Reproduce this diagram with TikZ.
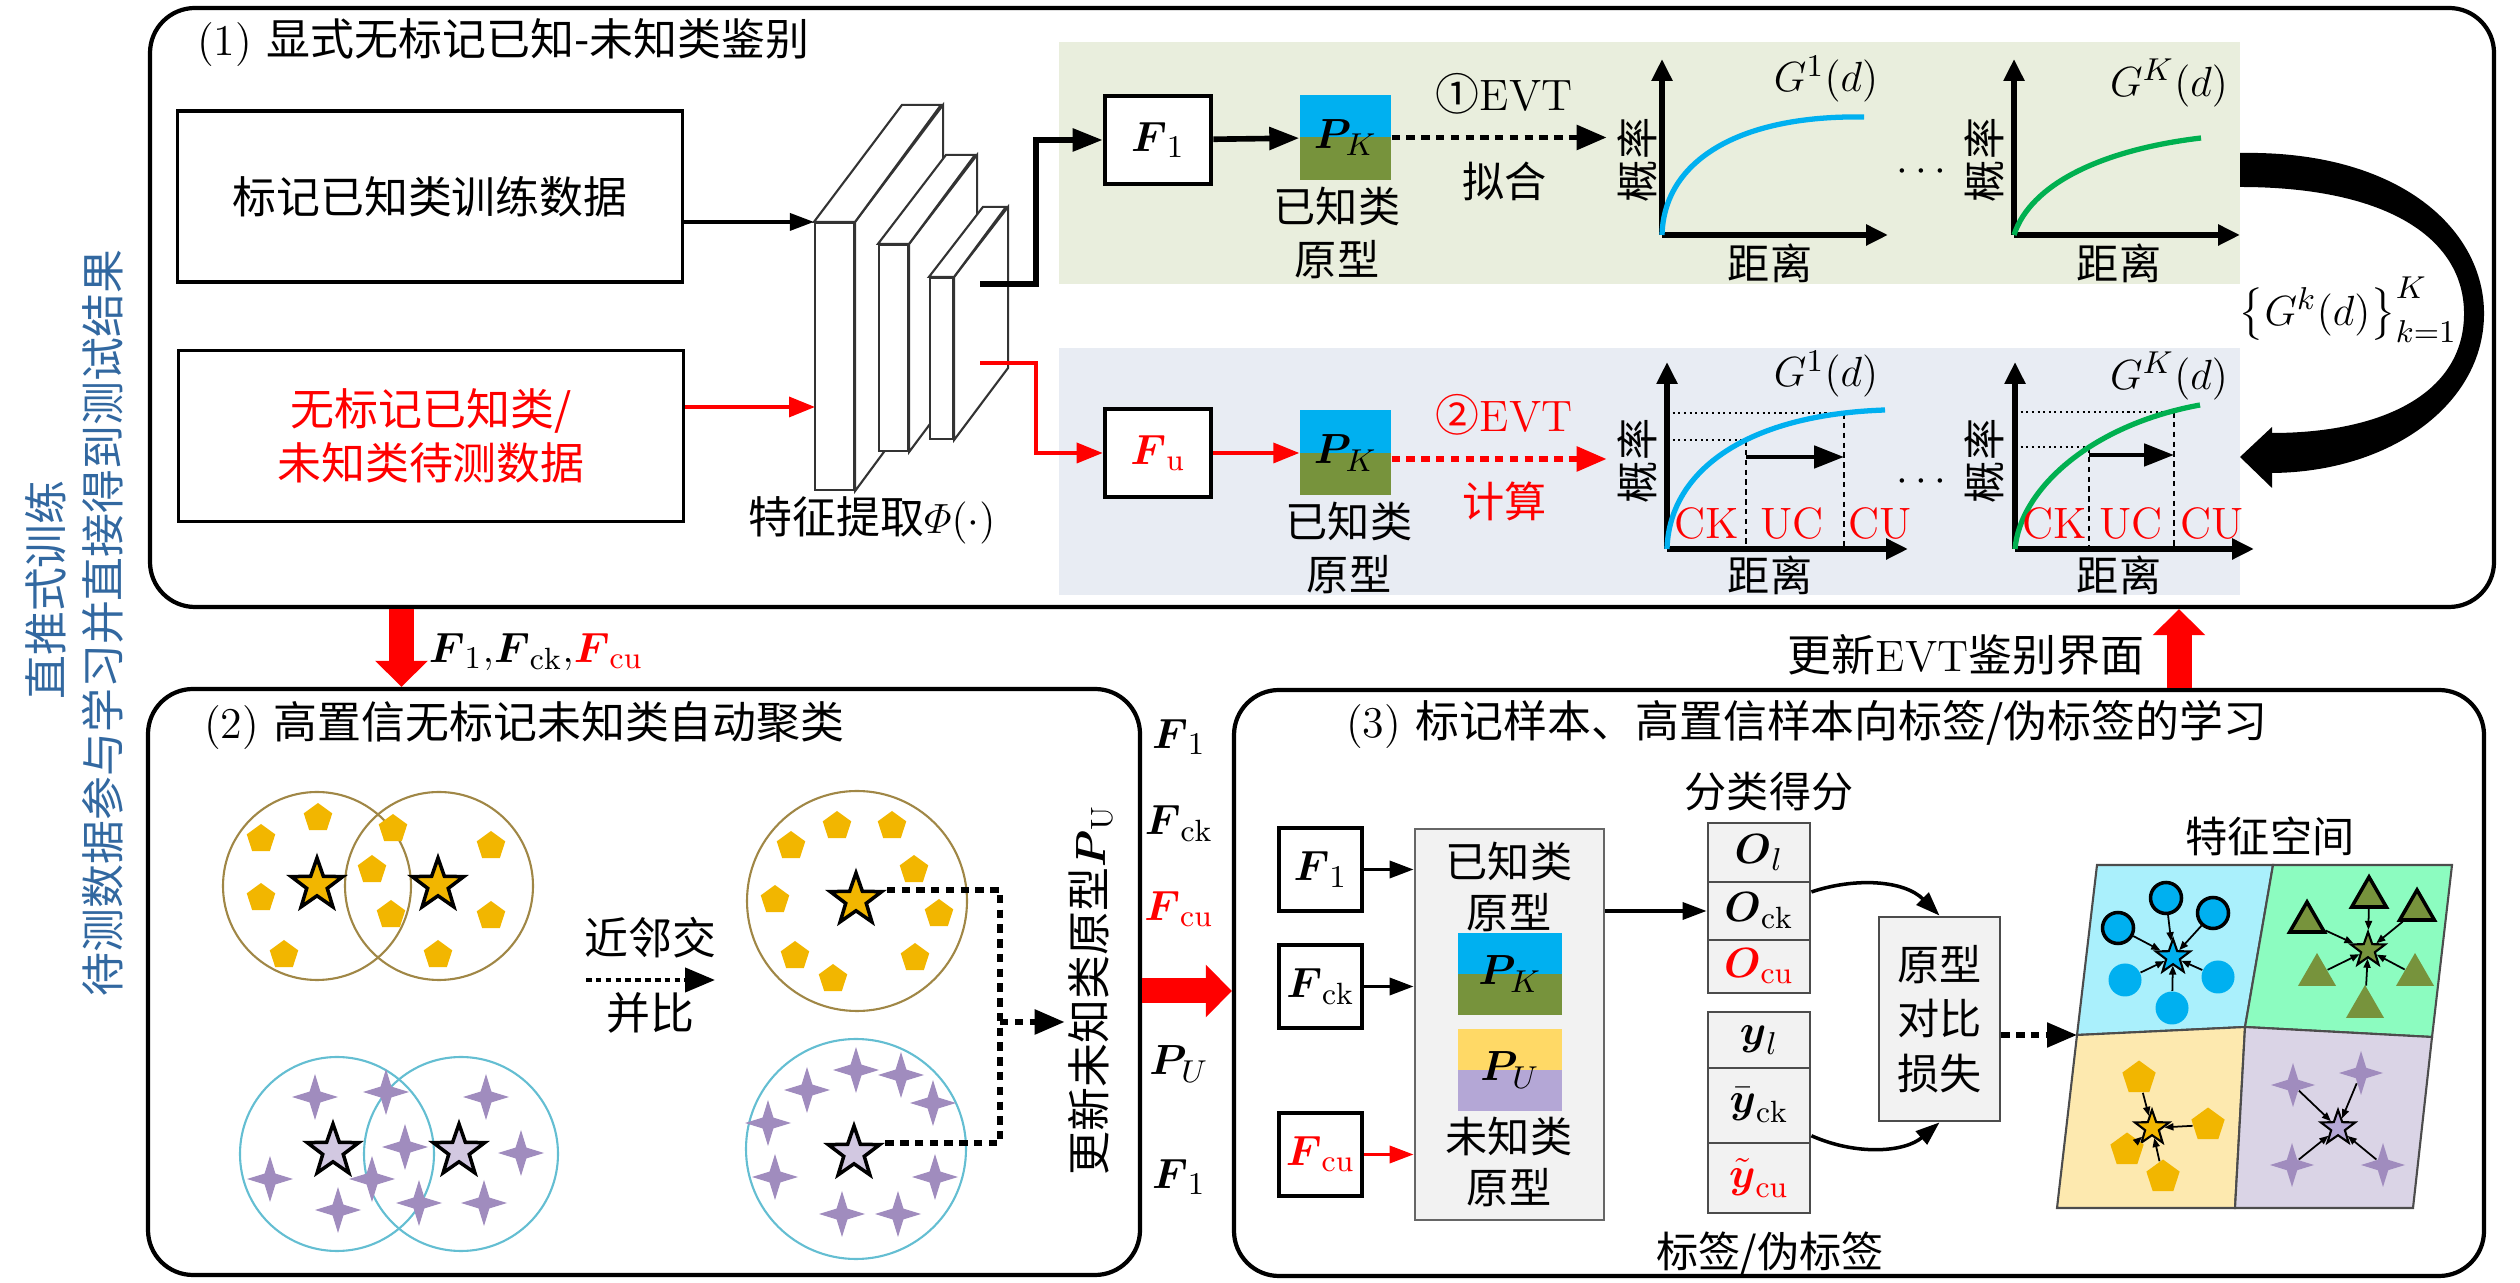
\documentclass[tikz,border=0pt]{standalone}
\usepackage{amsmath,amssymb}
\usepackage{fontspec}
\usepackage{xcolor}
\usepackage{tikz}
\usetikzlibrary{arrows.meta,positioning,shapes.geometric,calc}
\newfontfamily\cjk{Noto Sans CJK SC}

\definecolor{pkblue}{RGB}{0,176,240}
\definecolor{pkgreen}{RGB}{119,147,60}
\definecolor{puyellow}{RGB}{255,217,102}
\definecolor{pupurple}{RGB}{180,167,214}
\definecolor{curvegreen}{RGB}{0,176,80}
\definecolor{bggreen}{RGB}{233,238,221}
\definecolor{bgblue}{RGB}{232,236,243}
\definecolor{penty}{RGB}{242,182,0}
\definecolor{sparkle}{RGB}{160,140,190}
\definecolor{lavstar}{RGB}{210,200,225}
\definecolor{ringbrown}{RGB}{160,135,70}
\definecolor{ringcyan}{RGB}{100,190,210}
\definecolor{sideblue}{RGB}{50,104,160}
\definecolor{fsblue}{RGB}{170,240,252}
\definecolor{fsgreen}{RGB}{140,252,192}
\definecolor{fsyellow}{RGB}{253,233,175}
\definecolor{fspurple}{RGB}{218,212,230}
\definecolor{cellgray}{RGB}{242,242,242}

\begin{document}
\begin{tikzpicture}[x=1cm, y=-1cm,
    every node/.style={font=\fontsize{12.5}{15}\selectfont, inner sep=1pt},
    panel/.style={draw, line width=1.2pt, rounded corners=0.45cm},
    ttl/.style={anchor=west, font=\fontsize{12.5}{15}\selectfont},
    zh/.style={font=\fontsize{12}{15.3}\selectfont\cjk, align=center, inner sep=0pt},
    databox/.style={draw, line width=1pt, minimum width=5.05cm, minimum height=1.71cm,
                    font=\fontsize{12.5}{15.3}\selectfont\cjk, align=center},
    fbox/.style={draw, line width=1.3pt, fill=white, minimum width=1.06cm, minimum height=0.88cm},
    fsmall/.style={fbox, minimum width=0.83cm, minimum height=0.83cm},
    proto/.style 2 args={minimum width=0.91cm, minimum height=0.85cm, inner sep=0pt,
                    path picture={\fill[#1] (path picture bounding box.north west) rectangle (path picture bounding box.east);
                                  \fill[#2] (path picture bounding box.south west) rectangle (path picture bounding box.east);}},
    cell/.style={draw=black!70, line width=0.8pt, fill=cellgray, minimum width=1.02cm},
    slab/.style={draw=black!80, line width=0.6pt, fill=white},
    arr/.style={-{Triangle[length=0.24cm,width=0.17cm]}, line width=1pt},
    arrk/.style={-{Triangle[length=0.3cm,width=0.22cm]}, line width=1.6pt},
    arrr/.style={-{Triangle[length=0.26cm,width=0.2cm]}, line width=1pt, red},
    dotarr/.style={-{Triangle[length=0.3cm,width=0.24cm]}, line width=1.6pt, dash pattern=on 2.4pt off 1.8pt},
    dotline/.style={line width=1.6pt, dash pattern=on 2.4pt off 1.8pt},
    axis/.style={-{Triangle[length=0.22cm,width=0.2cm]}, line width=1.7pt},
    gcurve/.style={line width=1.5pt},
    guide/.style={line width=0.6pt, densely dotted},
    tick/.style={line width=0.6pt, dash pattern=on 1.6pt off 1.2pt},
    bigred/.style={red, line width=0.25cm, -{Triangle[length=0.26cm,width=0.51cm]}},
    star5/.style={star, star points=5, star point ratio=2.5, draw, line width=1pt, inner sep=0pt, minimum size=0.54cm},
    pent/.style={regular polygon, regular polygon sides=5, fill=penty, inner sep=0pt, minimum size=0.3cm},
    spark/.style={star, star points=4, star point ratio=3, fill=sparkle, inner sep=0pt, minimum size=0.46cm},
    ring/.style={circle, draw, line width=0.6pt, inner sep=0pt},
    tri/.style={regular polygon, regular polygon sides=3, fill=pkgreen, inner sep=0pt, minimum size=0.42cm},
    quad/.style={draw=black!70, line width=0.6pt},
    tiny/.style={-{Triangle[length=0.09cm,width=0.07cm]}, line width=0.5pt}
]
    \useasboundingbox (0,0) rectangle (25.2,12.83);

    % EVT rows
    \fill[bggreen] (10.59,0.42) rectangle (22.40,2.84);
    \fill[bgblue] (10.59,3.48) rectangle (22.40,5.95);

    \node[panel, minimum width=23.44cm, minimum height=5.99cm] (pnlA) at (13.22,3.075) {};
    \node[panel, minimum width=9.92cm, minimum height=5.86cm] (pnlB) at (6.44,9.82) {};
    \node[panel, minimum width=12.50cm, minimum height=5.86cm] (pnlC) at (18.59,9.83) {};

    \node[zh, rotate=90, text=sideblue, font=\fontsize{12.5}{15}\selectfont\cjk] (sideA) at (0.46,5.90) {直推式训练};
    \node[zh, rotate=90, text=sideblue, font=\fontsize{12.5}{15}\selectfont\cjk] (sideB) at (1.03,6.23) {待测数据参与学习并直接得到测试结果};

    % (1)
    \node[ttl] (tA) at (1.93,0.43) {(1) {\cjk 显式无标记已知-未知类鉴别}};
    \node[databox] (trainK) at (4.30,1.965) {标记已知类训练数据};
    \node[databox, text=red] (testU) at (4.31,4.36) {无标记已知类/\\未知类待测数据};

    \node[slab, minimum width=0.39cm, minimum height=2.67cm] (layerA) at (8.345,3.565) {};
    \filldraw[slab] (layerA.north east) -- ++(0.88,-1.17) -- ++(0,2.67) -- (layerA.south east) -- cycle;
    \filldraw[slab] (layerA.north west) -- ++(0.88,-1.17) -- ++(0.39,0) -- (layerA.north east) -- cycle;
    \node[slab, minimum width=0.29cm, minimum height=2.06cm] (layerB) at (8.935,3.48) {};
    \filldraw[slab] (layerB.north east) -- ++(0.68,-0.89) -- ++(0,2.06) -- (layerB.south east) -- cycle;
    \filldraw[slab] (layerB.north west) -- ++(0.68,-0.89) -- ++(0.29,0) -- (layerB.north east) -- cycle;
    \node[slab, minimum width=0.23cm, minimum height=1.61cm] (layerC) at (9.415,3.585) {};
    \filldraw[slab] (layerC.north east) -- ++(0.54,-0.70) -- ++(0,1.61) -- (layerC.south east) -- cycle;
    \filldraw[slab] (layerC.north west) -- ++(0.54,-0.70) -- ++(0.23,0) -- (layerC.north east) -- cycle;
    \node (phi) at (8.72,5.20) {{\cjk 特征提取}$\varPhi(\cdot)$};

    \coordinate (inU) at (8.15,4.07);
    \coordinate (outK) at (9.80,2.84);
    \coordinate (outU) at (9.80,3.63);
    \draw[arr] (trainK.east |- layerA.north west) -- (layerA.north west);
    \draw[arrr] (testU.east |- inU) -- (inU);

    \node[fbox] (fK) at (11.58,1.40) {$\boldsymbol{F}_1$};
    \node[fbox, text=red] (fU) at (11.58,4.53) {$\boldsymbol{F}_{\mathrm{u}}$};
    \draw[arrk] (outK) -- ++(0.56,0) |- (fK);
    \draw[arrr] (outU) -- ++(0.56,0) |- (fU);

    \node[proto={pkblue}{pkgreen}] (pK) at (13.455,1.375) {$\boldsymbol{P}_{\!K}$};
    \node[proto={pkblue}{pkgreen}] (pK2) at (13.455,4.53) {$\boldsymbol{P}_{\!K}$};
    \node[zh] (pKlab) at (13.37,2.33) {已知类\\原型};
    \node[zh] (pK2lab) at (13.49,5.48) {已知类\\原型};
    \draw[arrk] (fK) -- (pK);
    \draw[arrr] (fU) -- (pK2);

    % charts
    \node[zh, rotate=90] (prob1) at (16.37,1.60) {概率};
    \node[zh, rotate=90] (prob2) at (19.84,1.60) {概率};
    \node[zh, rotate=90] (prob3) at (16.37,4.61) {概率};
    \node[zh, rotate=90] (prob4) at (19.84,4.61) {概率};
    \node[zh] (dist1) at (17.70,2.63) {距离};
    \node[zh] (dist2) at (21.19,2.63) {距离};
    \node[zh] (dist3) at (17.70,5.75) {距离};
    \node[zh] (dist4) at (21.19,5.75) {距离};

    \draw[dotarr, shorten >=0.1cm] (pK) -- (pK -| prob1.north)
        node[midway, above=0.17cm] {{\cjk ①}EVT}
        node[midway, below=0.22cm, zh] {拟合};
    \draw[dotarr, red, shorten >=0.1cm] (pK2.east |- 0,4.59) -- (prob3.north |- 0,4.59)
        node[midway, above=0.17cm] {{\cjk ②}EVT}
        node[midway, below=0.2cm, zh, text=red] {计算};

    \coordinate (o1) at (16.62,2.35);
    \draw[axis] (o1) -- ++(0,-1.76);
    \draw[axis] (o1) -- ++(2.26,0);
    \draw[gcurve, pkblue] (o1) .. controls (16.64,1.60) and (17.40,1.15) .. (18.64,1.17);
    \node (g1) at (18.26,0.79) {$G^1(d)$};

    \coordinate (o2) at (20.14,2.35);
    \draw[axis] (o2) -- ++(0,-1.76);
    \draw[axis] (o2) -- ++(2.26,0);
    \draw[gcurve, curvegreen] (o2) .. controls (20.30,1.85) and (21.00,1.50) .. (22.01,1.38);
    \node (gK) at (21.69,0.83) {$G^K(d)$};
    \node (dotsA) at (19.25,1.72) {$\cdots$};

    \coordinate (o3) at (16.67,5.49);
    \draw[guide] (16.67,4.40) -- (17.46,4.40);
    \draw[guide] (16.67,4.13) -- (18.44,4.13);
    \draw[tick] (17.46,4.40) -- (17.46,5.49);
    \draw[tick] (18.44,4.13) -- (18.44,5.49);
    \draw[axis] (o3) -- ++(0,-1.87);
    \draw[axis] (o3) -- ++(2.41,0);
    \draw[gcurve, pkblue] (o3) .. controls (16.69,4.75) and (17.40,4.15) .. (18.85,4.10);
    \draw[arrk, line width=1.4pt] (17.46,4.57) -- (18.44,4.57);
    \node[text=red] (ck1) at (17.07,5.24) {CK};
    \node[text=red] (uc1) at (17.92,5.24) {UC};
    \node[text=red] (cu1) at (18.80,5.24) {CU};
    \node (g1b) at (18.26,3.74) {$G^1(d)$};

    \coordinate (o4) at (20.15,5.49);
    \draw[guide] (20.15,4.47) -- (20.89,4.47);
    \draw[guide] (20.15,4.12) -- (21.74,4.12);
    \draw[tick] (20.89,4.47) -- (20.89,5.49);
    \draw[tick] (21.74,4.12) -- (21.74,5.49);
    \draw[axis] (o4) -- ++(0,-1.87);
    \draw[axis] (o4) -- ++(2.39,0);
    \draw[gcurve, curvegreen] (o4) .. controls (20.20,4.90) and (20.90,4.25) .. (22.00,4.05);
    \draw[arrk, line width=1.4pt] (20.89,4.55) -- (21.74,4.55);
    \node[text=red] (ck2) at (20.55,5.24) {CK};
    \node[text=red] (uc2) at (21.31,5.24) {UC};
    \node[text=red] (cu2) at (22.12,5.24) {CU};
    \node (gKb) at (21.69,3.76) {$G^K(d)$};
    \node (dotsB) at (19.25,4.82) {$\cdots$};

    % feedback of the fitted curves
    \fill (22.40,1.53) .. controls (24.00,1.50) and (24.85,2.30) .. (24.84,3.15)
        .. controls (24.83,4.05) and (23.90,4.72) .. (22.72,4.73) -- (22.72,4.33)
        .. controls (23.80,4.33) and (24.63,3.95) .. (24.64,3.15)
        .. controls (24.65,2.40) and (23.90,1.87) .. (22.40,1.87) -- cycle;
    \fill (22.40,4.57) -- (22.72,4.27) -- (22.72,4.88) -- cycle;
    \node (gset) at (23.48,3.10) {$\left\{G^k(d)\right\}_{k=1}^{K}$};

    % links between panels
    \coordinate (dnx) at (4.015,0);
    \coordinate (upx) at (21.79,0);
    \coordinate (rtx) at (0,9.91);
    \draw[bigred] (pnlA.south -| dnx) -- (pnlB.north -| dnx);
    \draw[bigred] (pnlC.north -| upx) -- (pnlA.south -| upx);
    \draw[bigred] (pnlB.east |- rtx) -- (pnlC.west |- rtx);
    \node (fset) at (5.36,6.52) {$\boldsymbol{F}_1{,}\boldsymbol{F}_{\mathrm{ck}}{,}\textcolor{red}{\boldsymbol{F}_{\mathrm{cu}}}$};
    \node (updEVT) at (19.66,6.55) {{\cjk 更新}EVT{\cjk 鉴别界面}};

    % (2)
    \node[ttl] (tB) at (2.00,7.26) {(2) {\cjk 高置信无标记未知类自动聚类}};
    \node[ring, draw=ringbrown, minimum size=1.88cm] (rA) at (3.17,8.86) {};
    \node[ring, draw=ringbrown, minimum size=1.88cm] (rB) at (4.39,8.86) {};
    \node[ring, draw=ringcyan, minimum size=1.94cm] (rC) at (3.37,11.54) {};
    \node[ring, draw=ringcyan, minimum size=1.94cm] (rD) at (4.61,11.54) {};
    \node[ring, draw=ringbrown, minimum size=2.2cm] (rE) at (8.57,9.01) {};
    \node[ring, draw=ringcyan, minimum size=2.2cm] (rF) at (8.56,11.49) {};

    \foreach \x/\y [count=\i] in {3.18/8.18, 2.61/8.39, 3.93/8.29, 4.91/8.46, 3.72/8.70,
                                  2.61/8.98, 3.91/9.15, 4.91/9.16, 2.84/9.55, 4.38/9.55}
        \node[pent] (pa\i) at (\x,\y) {};
    \foreach \x/\y [count=\i] in {8.37/8.26, 8.92/8.26, 7.91/8.46, 9.14/8.70, 7.75/9.00,
                                  9.39/9.14, 7.95/9.56, 8.33/9.79, 9.15/9.58}
        \node[pent] (pb\i) at (\x,\y) {};
    \foreach \x/\y [count=\i] in {3.15/10.97, 3.86/10.92, 4.86/10.97, 2.70/11.79, 4.05/11.47,
                                  3.72/11.79, 5.21/11.53, 3.38/12.10, 4.19/12.03, 4.84/12.03}
        \node[spark] (sa\i) at (\x,\y) {};
    \foreach \x/\y [count=\i] in {8.56/10.70, 9.01/10.75, 8.07/10.90, 9.33/11.03, 7.68/11.23,
                                  7.75/11.77, 9.35/11.77, 8.42/12.14, 8.98/12.14}
        \node[spark] (sb\i) at (\x,\y) {};

    \node[star5, fill=penty] (kA) at (3.17,8.85) {};
    \node[star5, fill=penty] (kB) at (4.38,8.85) {};
    \node[star5, fill=penty] (kM) at (8.56,9.00) {};
    \node[star5, fill=lavstar] (uA) at (3.33,11.51) {};
    \node[star5, fill=lavstar] (uB) at (4.59,11.51) {};
    \node[star5, fill=lavstar] (uM) at (8.54,11.53) {};

    \coordinate (nbL) at (5.86,9.80);
    \coordinate (nbR) at (7.15,9.80);
    \draw[dotarr, line width=1.2pt, dash pattern=on 1.6pt off 1.2pt] (nbL) -- (nbR)
        node[midway, above=0.2cm, zh, font=\fontsize{12.5}{15}\selectfont\cjk] {近邻交}
        node[midway, below=0.1cm, zh, font=\fontsize{12.5}{15}\selectfont\cjk] {并比};

    \node[rotate=90] (upd) at (10.91,9.90) {{\cjk 更新未知类原型}$\boldsymbol{P}_{\mathrm{U}}$};
    \coordinate (jn) at (10.00,10.22);
    \draw[dotline] (kM.outer point 5) -| (jn) |- (uM.outer point 5);
    \draw[dotarr] (jn) -- (jn -| upd.north);

    \node (cF1) at (11.79,7.37) {$\boldsymbol{F}_1$};
    \node (cFck) at (11.79,8.24) {$\boldsymbol{F}_{\mathrm{ck}}$};
    \node[text=red] (cFcu) at (11.79,9.09) {$\boldsymbol{F}_{\mathrm{cu}}$};
    \node (cPU) at (11.79,10.64) {$\boldsymbol{P}_{\!U}$};
    \node (cF1b) at (11.79,11.77) {$\boldsymbol{F}_1$};

    % (3)
    \node[ttl] (tC) at (13.42,7.24) {(3) {\cjk 标记样本、高置信样本向标签/伪标签的学习}};
    \node[fsmall] (gF1) at (13.205,8.695) {$\boldsymbol{F}_1$};
    \node[fsmall] (gFck) at (13.205,9.865) {$\boldsymbol{F}_{\mathrm{ck}}$};
    \node[fsmall, text=red] (gFcu) at (13.205,11.545) {$\boldsymbol{F}_{\mathrm{cu}}$};

    \node[draw=black!60, line width=0.8pt, fill=cellgray, minimum width=1.89cm, minimum height=3.91cm] (lib) at (15.095,10.245) {};
    \node[zh, font=\fontsize{12}{14.7}\selectfont\cjk] (libK) at (15.09,8.87) {已知类\\原型};
    \node[zh, font=\fontsize{12}{14.7}\selectfont\cjk] (libU) at (15.09,11.62) {未知类\\原型};
    \node[proto={pkblue}{pkgreen}, minimum width=1.04cm, minimum height=0.82cm] (gPK) at (15.10,9.74) {$\boldsymbol{P}_{\!K}$};
    \node[proto={puyellow}{pupurple}, minimum width=1.04cm, minimum height=0.82cm] (gPU) at (15.10,10.70) {$\boldsymbol{P}_{\!U}$};
    \draw[arr] (gF1) -- (gF1 -| lib.west);
    \draw[arr] (gFck) -- (gFck -| lib.west);
    \draw[arr, red] (gFcu) -- (gFcu -| lib.west);

    \node[zh] (scoreLab) at (17.69,7.92) {分类得分};
    \node[cell, minimum height=0.59cm] (oL) at (17.59,8.525) {$\boldsymbol{O}_l$};
    \node[cell, minimum height=0.58cm] (oCk) at (17.59,9.11) {$\boldsymbol{O}_{\mathrm{ck}}$};
    \node[cell, minimum height=0.53cm, text=red] (oCu) at (17.59,9.665) {$\boldsymbol{O}_{\mathrm{cu}}$};
    \node[cell, minimum height=0.56cm] (yL) at (17.59,10.40) {$\boldsymbol{y}_l$};
    \node[cell, minimum height=0.75cm] (yCk) at (17.59,11.055) {$\bar{\boldsymbol{y}}_{\mathrm{ck}}$};
    \node[cell, minimum height=0.70cm, text=red] (yCu) at (17.59,11.78) {$\tilde{\boldsymbol{y}}_{\mathrm{cu}}$};
    \node[zh] (labelLab) at (17.70,12.53) {标签/伪标签};
    \draw[arr] (lib.east |- oCk.west) -- (oCk.west);

    \node[cell, minimum width=1.21cm, minimum height=2.04cm, zh, font=\fontsize{12}{15.5}\selectfont\cjk] (loss) at (19.395,10.19) {原型\\对比\\损失};
    \draw[arr] (oCk.20) .. controls +(0.45,-0.15) and +(-0.35,-0.35) .. (loss.north);
    \draw[arr] (yCk.-30) .. controls +(0.45,0.2) and +(-0.35,0.3) .. (loss.south);

    % feature space
    \coordinate (q11) at (20.97,8.65);
    \coordinate (q12) at (22.73,8.65);
    \coordinate (q13) at (24.52,8.65);
    \coordinate (q21) at (20.77,10.35);
    \coordinate (q22) at (22.45,10.27);
    \coordinate (q23) at (24.32,10.37);
    \coordinate (q31) at (20.57,12.08);
    \coordinate (q32) at (22.35,12.08);
    \coordinate (q33) at (24.13,12.08);
    \filldraw[quad, fill=fsblue] (q11) -- (q12) -- (q22) -- (q21) -- cycle;
    \filldraw[quad, fill=fsgreen] (q12) -- (q13) -- (q23) -- (q22) -- cycle;
    \filldraw[quad, fill=fsyellow] (q21) -- (q22) -- (q32) -- (q31) -- cycle;
    \filldraw[quad, fill=fspurple] (q22) -- (q23) -- (q33) -- (q32) -- cycle;
    \node[zh] (fsLab) at (22.70,8.36) {特征空间};
    \draw[dotarr, line width=1.5pt] (loss.east |- q21) -- (q21);

    \node[star5, fill=pkblue, minimum size=0.36cm, line width=0.6pt] (cB) at (21.73,9.57) {};
    \foreach \x/\y [count=\i] in {21.18/9.28, 21.66/8.98, 22.13/9.13} {
        \node[circle, draw, line width=1pt, fill=pkblue, minimum size=0.31cm, inner sep=0pt] (bo\i) at (\x,\y) {};
        \draw[tiny] (bo\i) -- (cB);
    }
    \foreach \x/\y [count=\i] in {21.25/9.80, 22.18/9.77, 21.72/10.08} {
        \node[circle, fill=pkblue, minimum size=0.33cm, inner sep=0pt] (bf\i) at (\x,\y) {};
        \draw[tiny] (bf\i) -- (cB);
    }

    \node[star5, fill=pkgreen, minimum size=0.36cm, line width=0.6pt] (cG) at (23.68,9.50) {};
    \foreach \x/\y [count=\i] in {23.07/9.22, 23.69/8.97, 24.17/9.10} {
        \node[tri, draw, line width=1pt, minimum size=0.4cm] (go\i) at (\x,\y) {};
        \draw[tiny] (go\i) -- (cG);
    }
    \foreach \x/\y [count=\i] in {23.17/9.75, 24.15/9.75, 23.65/10.07} {
        \node[tri, minimum size=0.44cm] (gf\i) at (\x,\y) {};
        \draw[tiny] (gf\i) -- (cG);
    }

    \node[star5, fill=penty, minimum size=0.36cm, line width=0.6pt] (cY) at (21.52,11.28) {};
    \foreach \x/\y [count=\i] in {21.39/10.78, 22.08/11.25, 21.27/11.50, 21.63/11.77} {
        \node[pent, minimum size=0.35cm] (yp\i) at (\x,\y) {};
        \draw[tiny] (yp\i) -- (cY);
    }

    \node[star5, fill=pupurple, minimum size=0.36cm, line width=0.6pt] (cP) at (23.38,11.28) {};
    \foreach \x/\y [count=\i] in {22.93/10.85, 23.61/10.73, 22.92/11.65, 23.83/11.65} {
        \node[spark, minimum size=0.44cm] (ps\i) at (\x,\y) {};
        \draw[tiny] (ps\i) -- (cP);
    }
\end{tikzpicture}
\end{document}
